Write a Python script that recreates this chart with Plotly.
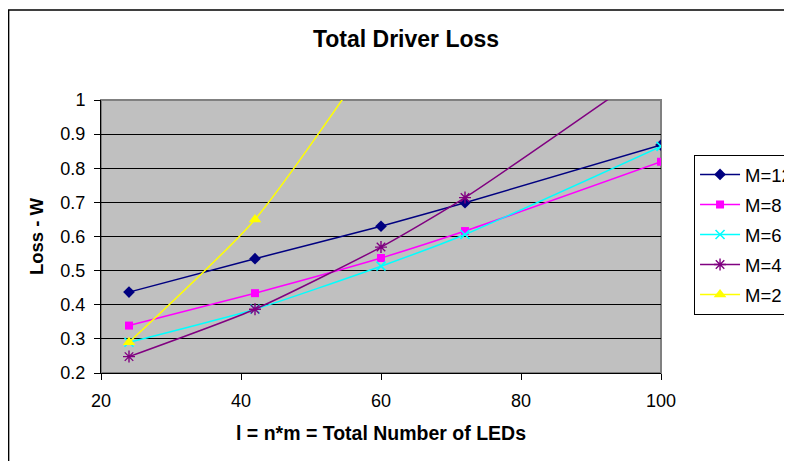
import plotly.graph_objects as go

x_vals = [24, 42, 60, 72, 100]
m12 = [0.437, 0.535, 0.630, 0.699, 0.868]
m8 = [0.339, 0.434, 0.537, 0.616, 0.819]
m6 = [0.290, 0.387, 0.513, 0.606, 0.864]
m4 = [0.248, 0.387, 0.569, 0.714, 1.11]
m2 = [0.290, 0.650, 1.17, 1.60, 2.70]

series = [
    ("M=12", m12, "#000080", "diamond", 9, 0),
    ("M=8", m8, "#FF00FF", "square", 8, 0),
    ("M=6", m6, "#00FFFF", "x-thin", 9, 1.6),
    ("M=4", m4, "#800080", "asterisk-open", 10, 1.4),
    ("M=2", m2, "#FFFF00", "triangle-up", 11, 0),
]

FONT = "Liberation Sans, Arial, sans-serif"

fig = go.Figure()
for i, (name, ys, col, sym, sz, lw) in enumerate(series):
    fig.add_trace(go.Scatter(
        x=x_vals, y=ys, name=name, mode="lines+markers",
        line=dict(color=col, width=1.5, shape="spline", smoothing=0.6),
        marker=dict(symbol=sym, size=sz, color=col, line=dict(color=col, width=lw)),
        legendgroup=f"g{i}",
        cliponaxis=True,
    ))

fig.update_layout(
    width=784, height=453,
    margin=dict(l=93, r=131, t=92, b=88, autoexpand=False),
    paper_bgcolor="white",
    plot_bgcolor="#C0C0C0",
    font=dict(family=FONT, size=18, color="black"),
    title=dict(text="<b>Total Driver Loss</b>", x=(406 - 8) / 784, xref="container", xanchor="center",
               y=1 - (39 - 8) / 453, yref="container", yanchor="middle",
               font=dict(size=23, family=FONT, color="black")),
    showlegend=True,
    legend=dict(x=1.059, y=0.799, xanchor="left", yanchor="top",
                bordercolor="black", borderwidth=1, bgcolor="white",
                font=dict(size=18.5, family=FONT), traceorder="grouped",
                tracegroupgap=3, itemwidth=40),
    xaxis=dict(range=[20, 100], tickvals=[20, 40, 60, 80, 100], showgrid=False,
               zeroline=False, showline=True, linecolor="black", linewidth=1,
               ticks="outside", ticklen=6, tickcolor="black", ticklabelstandoff=5,
               tickfont=dict(size=18),
               title=dict(text="<b>l = n*m = Total Number of LEDs</b>", standoff=16,
                          font=dict(size=19.5, family=FONT)),
               automargin=False),
    yaxis=dict(range=[0.2, 1.0], tickvals=[0.2, 0.3, 0.4, 0.5, 0.6, 0.7, 0.8, 0.9, 1.0],
               ticktext=["0.2", "0.3", "0.4", "0.5", "0.6", "0.7", "0.8", "0.9", "1"],
               showgrid=True, gridcolor="black", gridwidth=1,
               zeroline=False, showline=True, linecolor="black", linewidth=1,
               ticks="outside", ticklen=6, tickcolor="black", ticklabelstandoff=5,
               tickfont=dict(size=18),
               title=dict(text="<b>Loss - W</b>", standoff=11,
                          font=dict(size=18.5, family=FONT)),
               automargin=False),
    shapes=[
        dict(type="rect", xref="paper", yref="paper", x0=0, x1=1, y0=0, y1=1,
             line=dict(color="#808080", width=2), fillcolor="rgba(0,0,0,0)", layer="between"),
        dict(type="rect", xref="paper", yref="paper", x0=-0.165, x1=3, y0=-3, y1=1.33,
             line=dict(color="black", width=1.5), fillcolor="rgba(0,0,0,0)", layer="below"),
    ],
)

fig.write_html("out.html")
